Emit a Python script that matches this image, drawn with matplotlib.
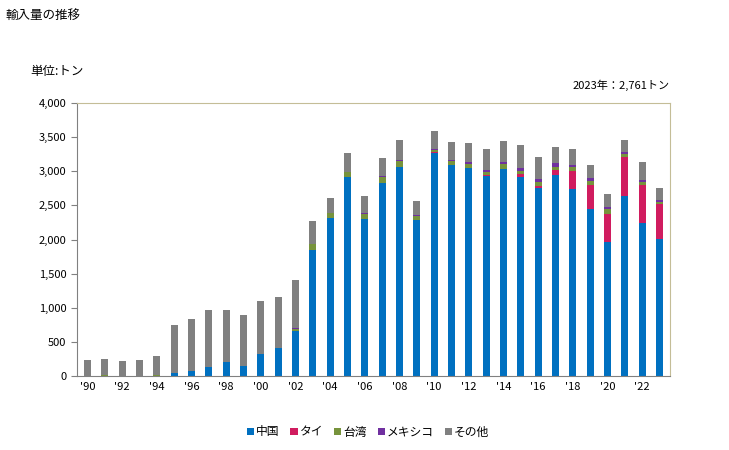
import matplotlib.pyplot as plt
import numpy as np
from matplotlib.ticker import FuncFormatter

plt.rcParams['font.family'] = ['Noto Sans CJK JP', 'DejaVu Sans']

# データ（単位：トン）
years = list(range(1990, 2024))
china = [0, 0, 0, 0, 0, 49, 73, 137, 205, 146, 322, 415, 659, 1846, 2315, 2915, 2300,
         2827, 3062, 2285, 3267, 3091, 3047, 2930, 3032, 2915, 2754, 2945, 2739, 2447,
         1963, 2637, 2242, 2007]
thai = [0, 0, 0, 0, 0, 0, 0, 0, 0, 0, 0, 0, 0, 0, 0, 0, 0,
        0, 0, 0, 15, 0, 0, 15, 0, 44, 29, 73, 264, 352,
        410, 571, 557, 513]
taiwan = [0, 8, 0, 0, 8, 0, 0, 0, 0, 8, 0, 0, 30, 88, 68, 78, 73,
          83, 88, 59, 29, 58, 59, 44, 73, 44, 59, 44, 59, 59,
          73, 44, 44, 29]
mexico = [0, 0, 0, 0, 0, 0, 0, 0, 0, 0, 0, 0, 10, 0, 0, 0, 20,
          20, 15, 15, 15, 15, 29, 29, 29, 44, 44, 59, 29, 44,
          29, 29, 29, 29]
total = [234, 253, 220, 234, 293, 747, 835, 967, 967, 894, 1103, 1157, 1406, 2271,
         2608, 3267, 2637, 3194, 3457, 2564, 3589, 3428, 3413, 3326, 3443, 3384,
         3208, 3355, 3326, 3091, 2667, 3457, 3135, 2761]
other = [t - c - th - tw - m for t, c, th, tw, m in zip(total, china, thai, taiwan, mexico)]

labels = ['中国', 'タイ', '台湾', 'メキシコ', 'その他']
colors = ['#0070c0', '#d01c5f', '#77933c', '#7030a0', '#808080']

fig = plt.figure(figsize=(7.29, 4.5), dpi=100)
ax = fig.add_axes([0.1056, 0.1644, 0.8134, 0.6066])

x = np.arange(len(years))
bottom = np.zeros(len(years))
for vals, lab, col in zip([china, thai, taiwan, mexico, other], labels, colors):
    ax.bar(x, vals, bottom=bottom, width=0.4, color=col, label=lab)
    bottom += np.array(vals)

ax.set_xlim(-0.6, len(years) - 0.4)
ax.set_ylim(0, 4000)
ax.set_yticks(range(0, 4001, 500))
ax.yaxis.set_major_formatter(FuncFormatter(lambda v, p: '{:,}'.format(int(v))))
ax.set_xticks(x[::2])
ax.set_xticklabels(["'" + str(y)[2:] for y in years[::2]])
ax.tick_params(axis='x', length=0, labelsize=8, pad=4)
ax.tick_params(axis='y', length=4, labelsize=8, color='#808080')

for s in ['left', 'bottom']:
    ax.spines[s].set_color('#808080')
for s in ['top', 'right']:
    ax.spines[s].set_color('#c4bd97')

fig.text(0.007, 0.965, '輸入量の推移', fontsize=9, va='center', ha='left')
fig.text(0.041, 0.84, '単位:トン', fontsize=9, va='center', ha='left')
fig.text(0.919, 0.81, '2023年：2,761トン', fontsize=8, va='center', ha='right')

fig.legend(loc='center', bbox_to_anchor=(0.505, 0.04), ncol=5, frameon=False,
           fontsize=8.5, handlelength=0.6, handleheight=0.6, handletextpad=0.2,
           columnspacing=0.9)

fig.savefig('out.png', dpi=100)
